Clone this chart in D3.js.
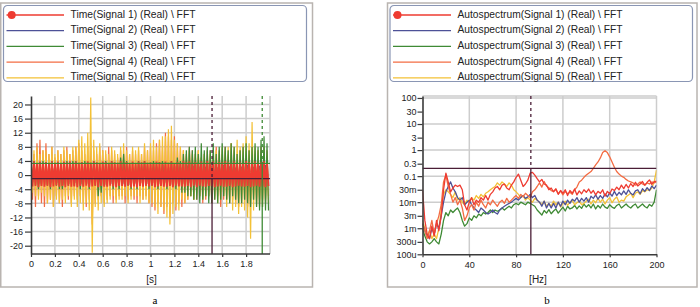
<!DOCTYPE html>
<html><head><meta charset="utf-8">
<script src="https://cdn.jsdelivr.net/npm/d3@7"></script>
<style>body{margin:0;background:#fff}svg{display:block}text{font-family:"Liberation Sans",Arial,sans-serif}</style>
</head><body><svg id="c" width="700" height="307"></svg>
<script>
// ---------------- DATA ----------------
const timeLegend = ["Time(Signal 1) (Real) \\ FFT","Time(Signal 2) (Real) \\ FFT","Time(Signal 3) (Real) \\ FFT","Time(Signal 4) (Real) \\ FFT","Time(Signal 5) (Real) \\ FFT"];
const specLegend = ["Autospectrum(Signal 1) (Real) \\ FFT","Autospectrum(Signal 2) (Real) \\ FFT","Autospectrum(Signal 3) (Real) \\ FFT","Autospectrum(Signal 4) (Real) \\ FFT","Autospectrum(Signal 5) (Real) \\ FFT"];
const seriesColors = ["#ee3b31","#4d5197","#3f8a35","#f36c43","#f3c136"];

const timeTicks = [0,0.2,0.4,0.6,0.8,1,1.2,1.4,1.6,1.8];
const timeGrid = [0.2,0.4,0.6,0.8,1,1.2,1.4,1.6,1.8,2];
const ampTicks = [20,16,12,8,4,0,-4,-8,-12,-16,-20];
const recordEnd = 1.9875; // s, last sample time

// time signals (V), consecutive samples
const signal1 = [3.6,-3.2,3.9,-3.0,3.4,-3.4,3.8,-3.1,3.5,-3.3,
 3.7,-3.0,3.3,-3.4,3.9,-3.2,3.5,-2.9,3.8,-3.3,
 3.4,-3.1,3.8,-3.4,3.6,-3.0,3.9,-3.3,3.3,-3.2,
 3.8,-3.4,3.5,-3.1,3.7,-3.3,3.4,-3.0,3.9,-3.4,
 3.5,-3.2,3.9,-3.0,3.6,-3.4,3.3,-3.1,3.8,-3.3,
 3.7,-3.3,3.4,-3.0,3.9,-3.2,3.6,-3.4,3.5,-3.1,
 3.9,-3.1,3.5,-3.3,3.7,-3.0,3.4,-3.4,3.8,-3.2,
 3.3,-3.4,3.8,-3.1,3.6,-3.3,3.9,-3.0,3.5,-3.2,
 3.6,-3.0,3.4,-3.4,3.8,-3.2,3.7,-3.1,3.3,-3.3,
 3.8,-3.3,3.5,-3.1,3.9,-3.4,3.4,-3.0,3.7,-3.2,
 3.4,-3.2,3.9,-3.3,3.6,-3.1,3.8,-3.4,3.5,-3.0,
 3.7,-3.4,3.3,-3.0,3.8,-3.2,3.5,-3.3,3.9,-3.1,
 3.5,-3.1,3.8,-3.4,3.4,-3.2,3.7,-3.0,3.6,-3.3,
 3.9,-3.3,3.6,-3.1,3.5,-3.4,3.8,-3.2,3.3,-3.0,
 3.6,-3.2,3.4,-3.3,3.9,-3.1,3.7,-3.4,3.5,-3.2,
 3.8,-3.0,3.5,-3.3,3.6,-3.2,3.9,-3.4,3.4,-3.1];
const signal2 = [2.5,-2.1,2.8,-2.4,2.2,-2.7,2.6,-2.3,2.9,-2.2,
 2.4,-2.8,2.1,-2.5,2.7,-2.2,2.3,-2.6,2.8,-2.4,
 2.6,-2.3,2.9,-2.1,2.4,-2.7,2.2,-2.5,2.8,-2.3,
 2.3,-2.6,2.5,-2.8,2.1,-2.4,2.7,-2.2,2.6,-2.5,
 2.8,-2.2,2.4,-2.6,2.9,-2.3,2.2,-2.7,2.5,-2.4,
 2.1,-2.5,2.7,-2.3,2.6,-2.8,2.4,-2.1,2.3,-2.6,
 2.7,-2.4,2.2,-2.6,2.8,-2.3,2.5,-2.7,2.1,-2.5,
 2.4,-2.2,2.9,-2.5,2.3,-2.6,2.6,-2.4,2.8,-2.3];
const signal3 = [3,-2,4,-3,2,-4,3,-3,4,-2,
 2,-3,3,-4,4,-2,3,-3,2,-4,
 3,-4,2,-3,4,-3,3,-2,4,-3,
 4,-3,3,-4,2,-3,4,-2,3,-4,
 3,-2,4,-3,3,-6,2,-5,3,-3,
 4,-3,3,-2,4,-4,3,-3,2,-4,
 5,-3,6,-2,4,-3,3,-4,2,-3,
 3,-4,4,-3,3,-2,4,-3,3,-4,
 2,-3,4,-3,3,-4,2,-3,4,-2,
 3,-4,2,-3,4,-3,3,-4,5,-3,
 4,-5,6,-5,7,-6,8,-6,7,-7,
 8,-7,6,-8,9,-7,7,-6,8,-8,
 7,-8,9,-7,6,-8,8,-7,9,-6,
 8,-7,7,-8,9,-6,8,-7,6,-8,
 7,-8,8,-7,9,-8,7,-9,8,-7,
 9,-9,8,-10,10,-9,11,-10,9,-10];
const signal4 = [8,-7,6,-9,9,-6,10,-8,7,-9,
 9,-8,6,-7,8,-9,5,-6,7,-8,
 6,-9,7,-6,8,-7,6,-8,7,-6,
 8,-7,9,-6,7,-8,6,-9,8,-7,
 9,-14,7,-8,6,-7,8,-6,7,-8,
 6,-7,8,-6,7,-8,6,-7,5,-6,
 7,-6,6,-8,8,-7,6,-6,7,-7,
 6,-8,7,-6,6,-7,8,-6,7,-8,
 8,-9,7,-10,9,-8,10,-9,8,-11,
 12,-9,11,-12,10,-8,11,-10,9,-8,
 8,-9,7,-8,6,-7,8,-6,7,-7,
 6,-7,7,-6,5,-8,6,-7,7,-6,
 7,-8,6,-7,8,-6,7,-9,6,-7,
 8,-7,6,-8,9,-7,7,-8,6,-9,
 7,-8,8,-7,6,-9,7,-8,8,-7,
 6,-8,7,-9,8,-7,6,-8,7,-6];
const signal5 = [6,-5,7,-6,8,-7,6,-5,7,-6,
 7,-8,6,-7,8,-9,6,-7,7,-8,
 6,-7,8,-8,7,-6,6,-9,8,-7,
 8,-9,10,-8,11,-10,9,-8,12,-10,
 22,-22,10,-9,8,-10,9,-8,7,-9,
 7,-8,6,-7,8,-6,7,-8,6,-7,
 8,-7,9,-6,7,-8,6,-7,8,-6,
 7,-6,8,-8,6,-7,9,-7,7,-8,
 9,-8,10,-9,8,-11,10,-9,11,-10,
 11,-12,13,-14,14,-11,10,-9,9,-10,
 8,-7,7,-8,6,-7,7,-6,6,-7,
 6,-5,7,-6,5,-7,6,-6,5,-6,
 6,-7,5,-6,7,-8,6,-7,8,-6,
 7,-9,8,-8,9,-10,8,-9,10,-11,
 8,-9,9,-10,11,-12,9,-18,15,-10,
 8,-9,7,-8,6,-9,8,-7,6,-8];
const timeCursorX = [1.515, 1.935];   // s
const timeCursorY = [-1.0, 3.3];      // V
const timeCursorColors = ["#4a1d36","#3f8a35"];

// autospectra, in milli-units (m), every 2 Hz from 0 to 200 Hz
const freqStep = 2;
const freqTicks = [0,40,80,120,160,200];
const freqGrid = [40,80,120,160,200];
const specTicks = [100,30,10,3,1,0.3,0.1,0.03,0.01,0.003,0.001,0.0003,0.0001];
const specTickLabels = ["100","30","10","3","1","0.3","0.1","30m","10m","3m","1m","300u","100u"];
const specGrid = [100,10,1,0.1,0.01,0.001];
const spec1 = [30,2,0.6,0.4,1.2,0.5,2,0.8,3,30,
 130,60,25,35,45,40,45,30,8,5,
 10,15,8,12,10,15,12,18,12,20,
 25,35,40,30,45,50,35,30,45,60,
 90,120,70,40,50,70,130,140,110,80,
 60,75,50,45,30,35,25,32,20,28,
 22,30,18,28,22,32,19,27,21,30,
 24,32,22,28,19,26,22,30,17,26,
 21,32,28,38,30,45,33,48,35,52,
 40,58,42,50,62,45,58,72,48,62,65];
const spec2 = [1.5,0.8,0.5,0.4,1,0.6,1.5,1,3,10,
 25,40,60,35,25,15,12,15,8,10,
 12,8,6,5,4,6,5,4,3.5,4,
 5,4,3.5,5,6,7,8,9,10,12,
 14,12,15,18,14,16,20,15,18,12,
 10,7,11,6,9,6,9,6,10,7,
 11,8,12,9,13,11,15,10,14,11,
 15,10,17,14,19,13,18,14,21,16,
 23,17,26,18,24,19,27,20,30,22,
 19,27,30,21,33,26,36,28,42,33,45];
const spec3 = [1,0.5,0.3,0.25,0.3,0.4,0.3,0.25,0.6,2,
 4,3,5,4,5,6,4,2,1.2,1.5,
 2.5,2,3,2.5,3.5,3,4,3.5,4,5,
 4,5,4.5,5,6,5,6,7,6,8,
 9,8,10,9,8,10,9,8,7,5,
 4,3.2,4.8,3.8,5.2,3.6,4.6,5.5,3.8,5,
 6.5,4.6,7,5.5,6,7.5,5.5,7.2,5.8,8.5,
 6.5,8,6,8.5,5.5,7.5,6,8.5,6.5,5.8,
 8,6.5,5.8,7.5,8.5,6,7.2,8.5,6.8,6,
 7.5,8.5,6,7.2,8.5,6.8,6,8.2,7,10,30];
const spec4 = [1.5,0.8,0.4,0.8,2,0.6,1.5,3,8,60,
 110,40,20,10,15,8,12,6,2,3,
 6,8,5,10,7,12,8,6,10,8,
 12,9,7,10,12,9,14,10,12,15,
 18,14,20,16,22,18,15,25,30,40,
 55,38,62,42,36,28,26,32,21,27,
 19,26,21,24,20,30,38,60,70,90,
 110,130,150,200,270,350,500,800,950,800,
 550,350,220,150,120,100,90,75,65,60,
 55,45,50,60,50,45,55,50,60,55,60];
const spec5 = [2,1,0.5,0.8,0.4,0.6,0.4,1,5,20,
 30,25,20,15,25,12,15,10,8,12,
 10,15,12,18,14,20,16,22,25,30,
 35,40,55,45,60,50,40,55,45,30,
 25,20,15,18,12,15,12,10,14,12,
 10,8,11,7,9,7,11,8,10,6.5,
 9,11,7.5,10,12,8,9.5,11,8,9,
 11,13,8.5,12,9.5,14,10,13,8.5,12,
 15,9.5,13,16,10,12,11,16,19,22,
 15,22,25,20,28,25,30,28,35,60,170];
const specCursorX = 92.6;  // Hz
const specCursorY = 0.2;

// ---------------- DRAW ----------------
const svg = d3.select("#c");
svg.append("rect").attr("width",700).attr("height",307).attr("fill","#fff");

// panel frames
[[0.75,312.5],[387.5,697]].forEach(([a,b])=>{
  svg.append("rect").attr("x",a).attr("y",3).attr("width",b-a).attr("height",284)
    .attr("fill","none").attr("stroke","#b9b4b0").attr("stroke-width",1.5);
});
svg.append("text").attr("x",155).attr("y",304).attr("text-anchor","middle")
  .style("font-family","'Liberation Serif',serif").style("font-size","11px").text("a");
svg.append("text").attr("x",547).attr("y",304).attr("text-anchor","middle")
  .style("font-family","'Liberation Serif',serif").style("font-size","11px").text("b");

function legend(x0, x1, lineX0, lineX1, textX, names, targetW, markerX){
  svg.append("rect").attr("x",x0).attr("y",5.5).attr("width",x1-x0).attr("height",76)
    .attr("rx",4).attr("fill","#fff").attr("stroke","#8a96b4").attr("stroke-width",1.2);
  names.forEach((n,i)=>{
    const y = 15 + i*15.7;
    svg.append("line").attr("x1",lineX0).attr("x2",lineX1).attr("y1",y).attr("y2",y)
      .attr("stroke",seriesColors[i]).attr("stroke-width",1.3);
    const t = svg.append("text").attr("x",textX).attr("y",y+2.5)
      .style("font-size","10.5px").attr("fill","#222").text(n);
    t.attr("textLength",targetW).attr("lengthAdjust","spacingAndGlyphs");
    if(i===0) svg.append("circle").attr("cx",markerX).attr("cy",y).attr("r",4).attr("fill",seriesColors[0]);
  });
}
legend(3.5,306.5,6.5,64,70.5,timeLegend,125,11.7);
legend(390,692.5,393,451,457.5,specLegend,165,397.5);

function styleAxis(g){
  g.select(".domain").attr("stroke","#3a3a3a").attr("stroke-width",1.6);
  g.selectAll(".tick line").attr("stroke","#3a3a3a").attr("stroke-width",1.2);
  g.selectAll(".tick text").style("font-size","9px").style("font-family","'Liberation Sans',Arial,sans-serif").attr("fill","#222");
}

// ---- time panel ----
const xT = d3.scaleLinear().domain([0,2]).range([31,270]);
const yT = d3.scaleLinear().domain([-22.35,22.4]).range([254,96]);
const gT = svg.append("g");
timeGrid.forEach(v=>gT.append("line").attr("x1",xT(v)).attr("x2",xT(v)).attr("y1",96).attr("y2",254).attr("stroke","#cdcdcd").attr("stroke-width",1.5));
ampTicks.forEach(v=>gT.append("line").attr("x1",31).attr("x2",270).attr("y1",yT(v)).attr("y2",yT(v)).attr("stroke","#cdcdcd").attr("stroke-width",1.5));
svg.append("clipPath").attr("id","clipT").append("rect").attr("x",31).attr("y",96).attr("width",239).attr("height",158);
const dataT = gT.append("g").attr("clip-path","url(#clipT)");
const timeSeries = [signal1,signal2,signal3,signal4,signal5];
[1,3,4,2,0].forEach(k=>{
  const arr = timeSeries[k];
  const dt = recordEnd/(arr.length-1);
  dataT.append("path").datum(arr)
    .attr("d", d3.line().x((d,i)=>xT(i*dt)).y(d=>yT(d)))
    .attr("fill","none").attr("stroke",seriesColors[k]).attr("stroke-width",k===0?1.8:1.2);
});
// cursors
timeCursorY.forEach((v,i)=>dataT.append("line").attr("x1",31).attr("x2",270).attr("y1",yT(v)).attr("y2",yT(v)).attr("stroke",timeCursorColors[i]).attr("stroke-width",1.3));
timeCursorX.forEach((v,i)=>{
  dataT.append("line").attr("x1",xT(v)).attr("x2",xT(v)).attr("y1",96).attr("y2",yT(timeCursorY[i])).attr("stroke",timeCursorColors[i]).attr("stroke-width",1.3).attr("stroke-dasharray","3,3");
  dataT.append("line").attr("x1",xT(v)).attr("x2",xT(v)).attr("y1",yT(timeCursorY[i])).attr("y2",254).attr("stroke",timeCursorColors[i]).attr("stroke-width",1.3);
});
const axYT = svg.append("g").attr("transform","translate(31,0)")
  .call(d3.axisLeft(yT).tickValues(ampTicks).tickFormat(d=>String(d)).tickSize(6).tickPadding(2).tickSizeOuter(0));
styleAxis(axYT);
const axXT = svg.append("g").attr("transform","translate(0,254)")
  .call(d3.axisBottom(xT).tickValues(timeTicks).tickFormat(d=>String(d)).tickSize(3).tickPadding(4).tickSizeOuter(0));
axXT.select(".domain").attr("d","M31,0H270");
styleAxis(axXT);
svg.append("text").attr("x",151.5).attr("y",283).attr("text-anchor","middle").style("font-size","10px").attr("fill","#222").text("[s]");

// ---- spectrum panel ----
const xF = d3.scaleLinear().domain([0,200]).range([422.5,656.5]);
const yF = d3.scaleLog().domain([1e-4,119]).range([254.3,96]);
const gF = svg.append("g");
freqGrid.forEach(v=>gF.append("line").attr("x1",xF(v)).attr("x2",xF(v)).attr("y1",96).attr("y2",254.3).attr("stroke","#cdcdcd").attr("stroke-width",1.5));
specGrid.forEach(v=>gF.append("line").attr("x1",422.5).attr("x2",656.5).attr("y1",yF(v)).attr("y2",yF(v)).attr("stroke","#cdcdcd").attr("stroke-width",1.5));
gF.append("line").attr("x1",422.5).attr("x2",656.5).attr("y1",96).attr("y2",96).attr("stroke","#cdcdcd").attr("stroke-width",1.5);
svg.append("clipPath").attr("id","clipF").append("rect").attr("x",422.5).attr("y",96).attr("width",234).attr("height",158.3);
const dataF = gF.append("g").attr("clip-path","url(#clipF)");
const specSeries = [spec1,spec2,spec3,spec4,spec5];
[2,4,1,3,0].forEach(k=>{
  dataF.append("path").datum(specSeries[k])
    .attr("d", d3.line().x((d,i)=>xF(i*freqStep)).y(d=>yF(d*1e-3)))
    .attr("fill","none").attr("stroke",seriesColors[k]).attr("stroke-width",1.3).attr("stroke-linejoin","round");
});
dataF.append("line").attr("x1",422.5).attr("x2",656.5).attr("y1",yF(specCursorY)).attr("y2",yF(specCursorY)).attr("stroke","#4a1d36").attr("stroke-width",1.3);
dataF.append("line").attr("x1",xF(specCursorX)).attr("x2",xF(specCursorX)).attr("y1",96).attr("y2",yF(specCursorY)).attr("stroke","#4a1d36").attr("stroke-width",1.3).attr("stroke-dasharray","3,3");
dataF.append("line").attr("x1",xF(specCursorX)).attr("x2",xF(specCursorX)).attr("y1",yF(specCursorY)).attr("y2",254.3).attr("stroke","#4a1d36").attr("stroke-width",1.3);
const axYF = svg.append("g").attr("transform","translate(422.5,0)")
  .call(d3.axisLeft(yF).tickValues(specTicks).tickFormat((d,i)=>specTickLabels[i]).tickSize(5).tickPadding(1).tickSizeOuter(0));
styleAxis(axYF);
const axXF = svg.append("g").attr("transform","translate(0,254.3)")
  .call(d3.axisBottom(xF).tickValues(freqTicks).tickFormat(d=>String(d)).tickSize(3).tickPadding(4).tickSizeOuter(0));
styleAxis(axXF);
svg.append("text").attr("x",538).attr("y",283).attr("text-anchor","middle").style("font-size","10px").attr("fill","#222").text("[Hz]");
</script></body></html>
